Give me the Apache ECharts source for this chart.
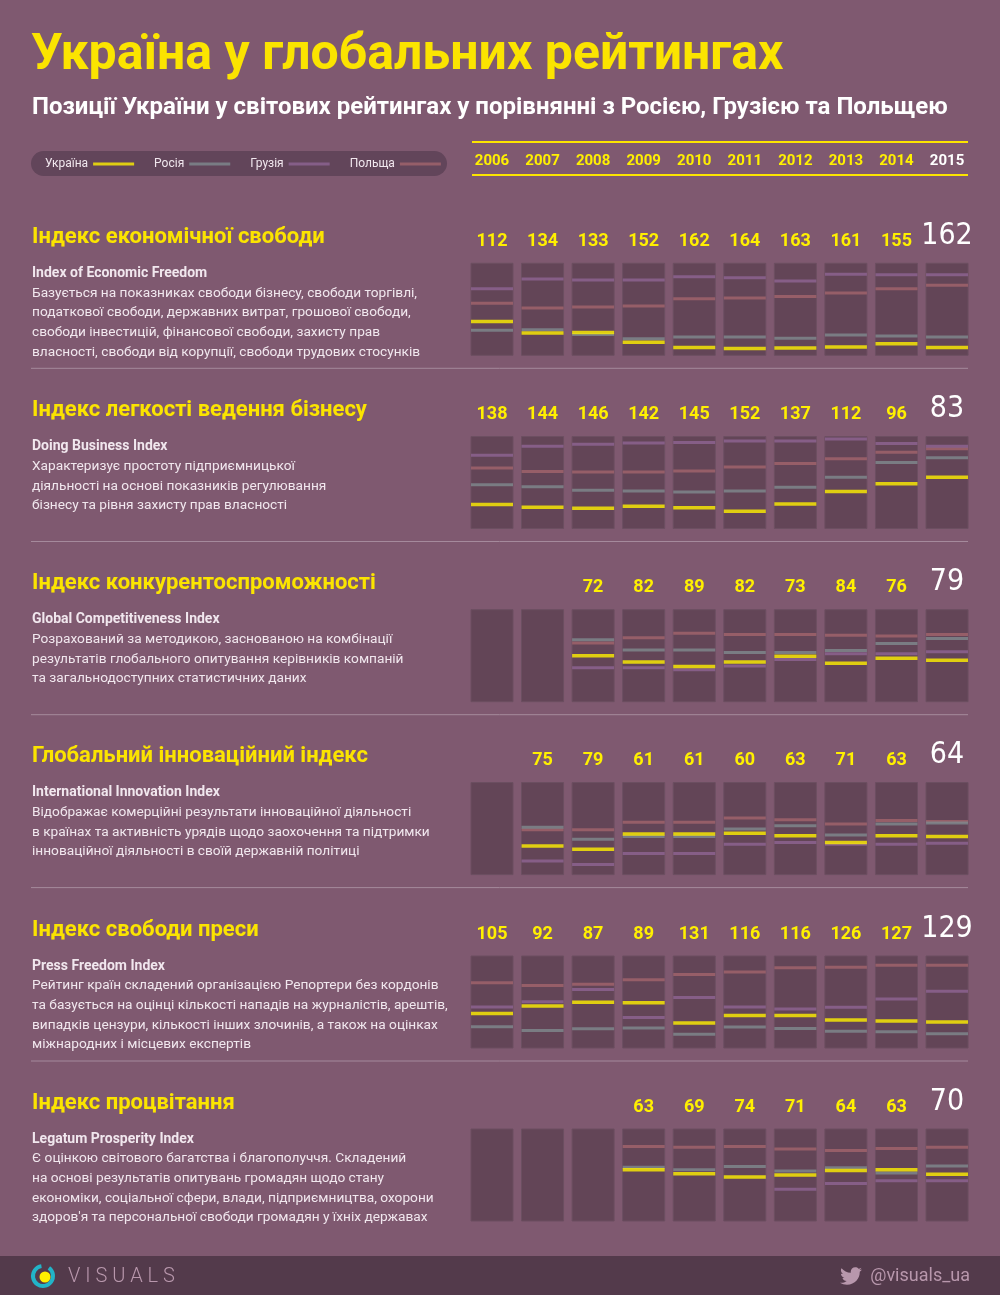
<!DOCTYPE html>
<html><head><meta charset="utf-8">
<script src="https://cdn.jsdelivr.net/npm/echarts@6/dist/echarts.min.js"></script>
<style>html,body{margin:0;padding:0;background:#7f5970}#c{width:1000px;height:1295px}</style>
</head><body><div id="c"></div>
<script>
// ---------- DATA ----------
const years = ['2006','2007','2008','2009','2010','2011','2012','2013','2014','2015'];
const countries = ['Україна','Росія','Грузія','Польща'];

// Index of Economic Freedom (rank)
const econUkr = [112,134,133,152,162,164,163,161,155,162];
const econRus = [129,128,137,145,142,142,144,138,140,142];
const econGeo = [49,30,32,32,26,28,34,21,22,22];
const econPol = [77,86,84,82,68,67,64,57,49,42];
const econTotal = [177,177,177,177,177,177,177,177,177,177];

// Doing Business
const bizUkr = [138,144,146,142,145,152,137,112,96,83];
const bizRus = [98,102,109,111,113,111,103,83,53,43];
const bizGeo = [38,20,16,13,12,9,9,5,14,20];
const bizPol = [64,71,72,72,70,62,55,45,32,25];
const bizTotal = [187,187,187,187,187,187,187,187,187,187];

// Global Competitiveness
const gciUkr = [null,null,72,82,89,82,73,84,76,79];
const gciRus = [null,null,47,63,63,67,67,64,53,45];
const gciGeo = [null,null,91,91,94,88,78,69,69,66];
const gciPol = [null,null,52,44,37,39,39,40,41,39];
const gciTotal = [144,144,144,144,144,144,144,144,144,144];

// Global Innovation
const giiUkr = [null,75,79,61,61,60,63,71,63,64];
const giiRus = [null,53,67,64,64,55,51,62,49,48];
const giiGeo = [null,93,97,84,84,73,71,73,73,72];
const giiPol = [null,56,56,47,47,42,44,49,45,46];
const giiTotal = [109,109,109,109,109,109,109,109,109,109];

// Press Freedom
const pressUkr = [105,92,87,89,131,116,116,126,127,129];
const pressRus = [129,137,137,137,153,138,141,148,148,152];
const pressGeo = [93,84,63,117,81,99,103,101,84,69];
const pressPol = [49,54,53,45,36,31,23,22,18,18];
const pressTotal = [168,169,173,175,180,179,179,181,180,180];

// Legatum Prosperity
const prospUkr = [null,null,null,63,69,74,71,64,63,70];
const prospRus = [null,null,null,59,63,58,65,60,68,57];
const prospGeo = [null,null,null,null,null,null,93,84,80,80];
const prospPol = [null,null,null,27,28,27,31,33,30,28];
const prospTotal = [142,142,142,142,142,142,142,142,142,142];

const panelTitles = ['Індекс економічної свободи','Індекс легкості ведення бізнесу','Індекс конкурентоспроможності','Глобальний інноваційний індекс','Індекс свободи преси','Індекс процвітання'];
const panelNames = ['Index of Economic Freedom','Doing Business Index','Global Competitiveness Index','International Innovation Index','Press Freedom Index','Legatum Prosperity Index'];
const panelDesc = [
 ['Базується на показниках свободи бізнесу, свободи торгівлі,','податкової свободи, державних витрат, грошової свободи,','свободи інвестицій, фінансової свободи, захисту прав','власності, свободи від корупції, свободи трудових стосунків'],
 ['Характеризує простоту підприємницької','діяльності на основі показників регулювання','бізнесу та рівня захисту прав власності'],
 ['Розрахований за методикою, заснованою на комбінації','результатів глобального опитування керівників компаній','та загальнодоступних статистичних даних'],
 ['Відображає комерційні результати інноваційної діяльності','в країнах та активність урядів щодо заохочення та підтримки','інноваційної діяльності в своїй державній політиці'],
 ['Рейтинг країн складений організацією Репортери без кордонів','та базується на оцінці кількості нападів на журналістів, арештів,','випадків цензури, кількості інших злочинів, а також на оцінках','міжнародних і місцевих експертів'],
 ['Є оцінкою світового багатства і благополуччя. Складений','на основі результатів опитувань громадян щодо стану','економіки, соціальної сфери, влади, підприємництва, охорони',"здоров'я та персональної свободи громадян у їхніх державах"]
];

// ---------- STYLE ----------
const C = {bg:'#7f5970', box:'#634557', boxBorder:'#6c4f61', yellow:'#fff000', titleY:'#fbe400',
  rus:'#808a8e', geo:'#8f6494', pol:'#a3646d', text:'#f1e7ee', sep:'#a58a9c', footer:'#533a4b'};
const FONT = "Roboto, 'Noto Sans', sans-serif";
const NARROW = "'Liberation Sans Narrow','DejaVu Sans Condensed',Roboto,sans-serif";

const panels = [
 {ukr:econUkr,rus:econRus,geo:econGeo,pol:econPol,total:econTotal},
 {ukr:bizUkr,rus:bizRus,geo:bizGeo,pol:bizPol,total:bizTotal},
 {ukr:gciUkr,rus:gciRus,geo:gciGeo,pol:gciPol,total:gciTotal},
 {ukr:giiUkr,rus:giiRus,geo:giiGeo,pol:giiPol,total:giiTotal},
 {ukr:pressUkr,rus:pressRus,geo:pressGeo,pol:pressPol,total:pressTotal},
 {ukr:prospUkr,rus:prospRus,geo:prospGeo,pol:prospPol,total:prospTotal}
];
const panelTop = [263.3,436.5,609.7,782.6,956,1129];
const boxLeft = 471, boxStep = 50.56, boxW = 42, boxH = 92;

const grids=[], xAxes=[], yAxes=[], series=[], graphic=[];
function txt(x,y,text,font,fill,align){
  return {type:'text', x, y, silent:true, style:{text, font, fill, align:align||'left', verticalAlign:'middle'}};
}

panels.forEach((p,pi)=>{
  years.forEach((yr,i)=>{
    const g = grids.length;
    const last = i===years.length-1;
    grids.push({left:boxLeft+i*boxStep, top:panelTop[pi], width:boxW, height:boxH, show:true,
      backgroundColor:C.box, borderColor:C.boxBorder, borderWidth:1});
    xAxes.push({gridIndex:g, type:'category', data:[yr], position:'top',
      axisLine:{show:false}, axisTick:{show:false}, splitLine:{show:false},
      axisLabel:{show:p.ukr[i]!=null, interval:0, margin:last?12:13,
        formatter:()=>String(p.ukr[i]),
        color:last?'#ffffff':C.yellow, fontSize:last?30:18, fontWeight:last?'normal':'bold',
        fontFamily:last?NARROW:FONT}});
    yAxes.push({gridIndex:g, type:'value', min:0, max:p.total[i], inverse:true, show:false});
    const defs = [['Польща',p.pol,C.pol,3],['Грузія',p.geo,C.geo,3],['Росія',p.rus,C.rus,3],['Україна',p.ukr,C.yellow,3.5]];
    defs.forEach(([name,arr,col,h],k)=>{
      series.push({type:'scatter', name, xAxisIndex:g, yAxisIndex:g, silent:true, z:2+k,
        symbol:'rect', symbolSize:[boxW,h], itemStyle:{color:col},
        data: arr[i]==null?[]:[[0,arr[i]]]});
    });
  });
  const t = panelTop[pi];
  graphic.push(txt(32, t-26, panelTitles[pi], `bold 22px ${FONT}`, C.titleY));
  graphic.push(txt(32, t+10, panelNames[pi], `bold 14px ${FONT}`, C.text));
  panelDesc[pi].forEach((line,k)=>{
    graphic.push(txt(32, t+30+k*19.6, line, `13.7px ${FONT}`, C.text));
  });
  if(pi<5){
    graphic.push({type:'line', silent:true, shape:{x1:31,y1:t+105,x2:968,y2:t+105}, style:{stroke:C.sep, lineWidth:1}});
  }
});

// header year axis
const hg = grids.length;
grids.push({left:boxLeft-(boxStep-boxW)/2, top:171, width:boxStep*10, height:1, show:false});
xAxes.push({gridIndex:hg, type:'category', data:years, position:'top', axisLine:{show:false}, axisTick:{show:false},
  axisLabel:{interval:0, margin:2, fontSize:15, fontWeight:'bold', fontFamily:FONT,
    formatter:(v,idx)=> idx===years.length-1?'{w|'+v+'}':'{y|'+v+'}',
    rich:{y:{color:C.yellow, fontSize:15, fontWeight:'bold', fontFamily:FONT}, w:{color:'#ffffff', fontSize:15, fontWeight:'bold', fontFamily:FONT}}}});
yAxes.push({gridIndex:hg, type:'value', show:false});

// header texts & decorations
graphic.push(txt(31, 56, 'Україна у глобальних рейтингах', `bold 50px ${FONT}`, C.titleY));
graphic.push(txt(32, 108, 'Позиції України у світових рейтингах у порівнянні з Росією, Грузією та Польщею', `bold 24px ${FONT}`, '#ffffff'));
graphic.push({type:'line', silent:true, shape:{x1:472,y1:142,x2:968,y2:142}, style:{stroke:C.titleY, lineWidth:2}});
graphic.push({type:'line', silent:true, shape:{x1:472,y1:175,x2:968,y2:175}, style:{stroke:C.titleY, lineWidth:2}});
graphic.push({type:'rect', silent:true, z:-1, shape:{x:31,y:151,width:416,height:25,r:12.5}, style:{fill:'#62455a'}});

// footer
const bird = "data:image/svg+xml;charset=utf-8," + encodeURIComponent('<svg xmlns="http://www.w3.org/2000/svg" viewBox="0 40 512 430"><path fill="#b897ac" d="M459.37 151.716c.325 4.548.325 9.097.325 13.645 0 138.72-105.583 298.558-298.558 298.558-59.452 0-114.68-17.219-161.137-47.106 8.447.974 16.568 1.299 25.34 1.299 49.055 0 94.213-16.568 130.274-44.832-46.132-.975-84.792-31.188-98.112-72.772 6.498.974 12.995 1.624 19.818 1.624 9.421 0 18.843-1.3 27.614-3.573-48.081-9.747-84.143-51.98-84.143-102.985v-1.299c13.969 7.797 30.214 12.67 47.431 13.319-28.264-18.843-46.781-51.005-46.781-87.391 0-19.492 5.197-37.360 14.294-52.954 51.655 63.675 129.300 105.258 216.365 109.807-1.624-7.797-2.599-15.918-2.599-24.040 0-57.828 46.782-104.934 104.934-104.934 30.213 0 57.502 12.670 76.670 33.137 23.715-4.548 46.456-13.320 66.599-25.340-7.798 24.366-24.366 44.833-46.132 57.827 21.117-2.273 41.584-8.122 60.426-16.243-14.292 20.791-32.161 39.308-52.628 54.253z"/></svg>');
graphic.push({type:'rect', silent:true, shape:{x:0,y:1256,width:1000,height:39}, style:{fill:C.footer}});
graphic.push({type:'arc', silent:true, shape:{cx:43,cy:1276,r:10,startAngle:-Math.PI*0.3,endAngle:Math.PI*1.45,clockwise:true}, style:{stroke:'#22b4c8', lineWidth:4, fill:null}});
graphic.push({type:'circle', silent:true, shape:{cx:45,cy:1277,r:5.5}, style:{fill:'#fff000'}});
graphic.push(txt(68, 1277, 'V I S U A L S', `300 20px ${FONT}`, '#b897ac'));
graphic.push(txt(970, 1276, '@visuals_ua', `18px ${FONT}`, '#b897ac', 'right'));
graphic.push({type:'image', silent:true, style:{image:bird, x:840, y:1267, width:22, height:18}});

const chart = echarts.init(document.getElementById('c'), null, {renderer:'canvas'});
chart.setOption({
  backgroundColor:C.bg, animation:false,
  textStyle:{fontFamily:FONT},
  grid:grids, xAxis:xAxes, yAxis:yAxes, series, graphic,
  legend:{data:countries.map(n=>({name:n, icon:'rect'})), left:45, top:158, align:'right', padding:0,
    itemWidth:41, itemHeight:3, itemGap:20, selectedMode:false,
    textStyle:{color:C.text, fontSize:12, fontFamily:FONT}}
});
</script></body></html>
